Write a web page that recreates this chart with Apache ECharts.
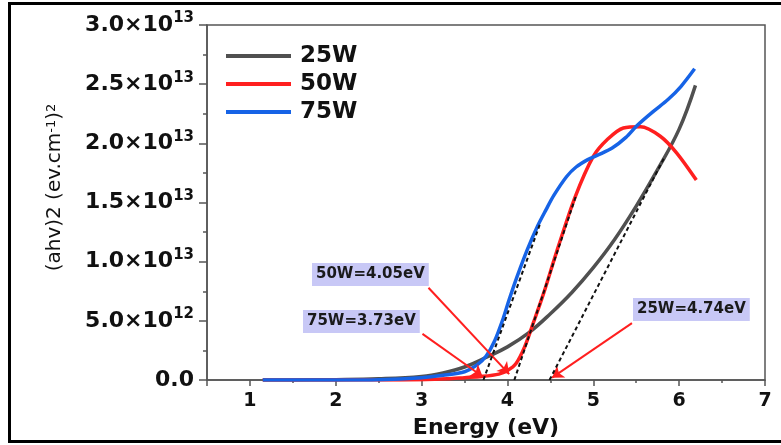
<!DOCTYPE html>
<html>
<head>
<meta charset="utf-8">
<script src="https://cdn.jsdelivr.net/npm/echarts@6/dist/echarts.min.js"></script>
<style>
html,body{margin:0;padding:0;background:#fff;}
#chart{width:781px;height:445px;}
</style>
</head>
<body>
<div id="chart"></div>
<script>
// y values in units of 1e13 (ev.cm^-1)^2
var seriesNames = ['25W', '50W', '75W'];

var x25 = [1.15, 1.5, 2.0, 2.5, 3.0, 3.25, 3.5, 3.75, 4.0, 4.25, 4.5, 4.75, 5.0, 5.25, 5.5, 5.75, 6.0, 6.19];
var y25 = [0, 0.001, 0.003, 0.01, 0.03, 0.06, 0.11, 0.19, 0.28, 0.40, 0.56, 0.74, 0.95, 1.19, 1.47, 1.78, 2.12, 2.49];

var x50 = [1.15, 2.0, 2.5, 3.0, 3.3, 3.5, 3.7, 3.9, 4.0, 4.1, 4.2, 4.3, 4.42, 4.58, 4.79, 5.0, 5.16, 5.35, 5.55, 5.78, 5.97, 6.2];
var y50 = [0, 0, 0, 0.003, 0.01, 0.02, 0.03, 0.05, 0.08, 0.14, 0.28, 0.48, 0.73, 1.10, 1.55, 1.89, 2.03, 2.13, 2.14, 2.06, 1.92, 1.69];

var x75 = [1.15, 2.0, 2.5, 3.0, 3.25, 3.5, 3.65, 3.75, 3.85, 3.95, 4.02, 4.11, 4.23, 4.35, 4.45, 4.54, 4.69, 4.8, 4.93, 5.05, 5.22, 5.38, 5.51, 5.7, 5.87, 6.02, 6.18];
var y75 = [0, 0, 0.003, 0.02, 0.04, 0.07, 0.13, 0.2, 0.33, 0.52, 0.68, 0.87, 1.10, 1.30, 1.44, 1.56, 1.72, 1.80, 1.86, 1.90, 1.96, 2.05, 2.15, 2.27, 2.37, 2.48, 2.63];

// tangent (Tauc extrapolation) lines: [x0, y0, x1, y1]
var tan25 = [4.49, 0, 5.82, 1.87];
var tan50 = [4.08, 0, 4.80, 1.56];
var tan75 = [3.72, 0, 4.38, 1.32];

// annotations: label text, arrow start [x,y], arrow end [x,y]
var annoTexts = ['50W=4.05eV', '75W=3.73eV', '25W=4.74eV'];
var annoStart = [[3.08, 0.78], [3.01, 0.39], [5.45, 0.48]];
var annoEnd = [[4.02, 0.05], [3.71, 0.03], [4.52, 0.02]];

var xMin = 0.5, xMax = 7;
var yMin = 0, yMax = 3, yStep = 0.5;

function pairs(xs, ys) { return xs.map(function (v, i) { return [v, ys[i]]; }); }
function seg(t) { return [[t[0], t[1]], [t[2], t[3]]]; }

var FONT = '"DejaVu Sans", "Liberation Sans", Arial, sans-serif';
var colors = ['#505050', '#ff1f1f', '#1663e6'];

var chart = echarts.init(document.getElementById('chart'), null, { renderer: 'canvas' });

var option = {
  animation: false,
  backgroundColor: '#ffffff',
  grid: { left: 207, right: 16, top: 25, bottom: 65, show: true, borderColor: '#555', borderWidth: 1.5, backgroundColor: 'transparent' },
  legend: {
    data: seriesNames,
    orient: 'vertical',
    left: 221, top: 39,
    icon: 'rect',
    itemWidth: 65, itemHeight: 4,
    itemGap: 4,
    textStyle: { fontFamily: FONT, fontWeight: 'bold', fontSize: 23, color: '#111', lineHeight: 24, padding: [0, 0, 0, 4] }
  },
  xAxis: {
    type: 'value', min: xMin, max: xMax, splitNumber: 6,
    name: 'Energy (eV)', nameLocation: 'middle', nameGap: 37,
    nameTextStyle: { fontFamily: FONT, fontWeight: 'bold', fontSize: 22, color: '#111' },
    axisLine: { show: true, lineStyle: { color: '#555', width: 1.5 } },
    axisTick: { show: true, inside: false, length: 6, lineStyle: { color: '#555', width: 1.5 } },
    minorTick: { show: true, splitNumber: 2, length: 3, lineStyle: { color: '#555', width: 1.5 } },
    splitLine: { show: false },
    axisLabel: {
      margin: 12, showMinLabel: false,
      fontFamily: FONT, fontWeight: 'bold', fontSize: 19, color: '#111',
      formatter: function (v) { return Math.abs(v - Math.round(v)) < 1e-9 ? String(Math.round(v)) : ''; }
    }
  },
  yAxis: {
    type: 'value', min: yMin, max: yMax, interval: yStep,
    name: '(ahv)2 (ev.cm{s|-1}){s|2}', nameLocation: 'middle', nameGap: 142,
    nameTextStyle: {
      fontFamily: FONT, fontSize: 20, color: '#111', padding: [0, 0, 0, 30],
      rich: { s: { fontFamily: FONT, fontSize: 13, color: '#111', lineHeight: 12, verticalAlign: 'top' } }
    },
    axisLine: { show: true, lineStyle: { color: '#555', width: 1.5 } },
    axisTick: { show: true, inside: false, length: 8, lineStyle: { color: '#555', width: 1.5 } },
    minorTick: { show: true, splitNumber: 2, length: 4, lineStyle: { color: '#555', width: 1.5 } },
    splitLine: { show: false },
    axisLabel: {
      margin: 13,
      formatter: function (v) {
        if (v === 0) return '{m|0.0}';
        var real = v * 1e13;
        var e = Math.floor(Math.log10(real) + 1e-9);
        var m = real / Math.pow(10, e);
        return '{m|' + m.toFixed(1) + '×10}{s|' + e + '}';
      },
      rich: {
        m: { fontFamily: FONT, fontWeight: 'bold', fontSize: 22, color: '#111', lineHeight: 28 },
        s: { fontFamily: FONT, fontWeight: 'bold', fontSize: 15, color: '#111', lineHeight: 15, verticalAlign: 'top' }
      }
    }
  },
  series: [
    { name: '25W', type: 'line', data: pairs(x25, y25), smooth: 0.4, showSymbol: false, symbol: 'none', lineStyle: { color: colors[0], width: 3.5 }, itemStyle: { color: colors[0] }, z: 2 },
    { name: '50W', type: 'line', data: pairs(x50, y50), smooth: 0.3, showSymbol: false, symbol: 'none', lineStyle: { color: colors[1], width: 3.5 }, itemStyle: { color: colors[1] }, z: 3 },
    { name: '75W', type: 'line', data: pairs(x75, y75), smooth: 0.3, showSymbol: false, symbol: 'none', lineStyle: { color: colors[2], width: 3.5 }, itemStyle: { color: colors[2] }, z: 4 },
    { name: 't25', type: 'line', data: seg(tan25), showSymbol: false, symbol: 'none', lineStyle: { color: '#111', width: 2, type: [4, 3] }, z: 5, silent: true },
    { name: 't50', type: 'line', data: seg(tan50), showSymbol: false, symbol: 'none', lineStyle: { color: '#111', width: 2, type: [4, 3] }, z: 5, silent: true },
    { name: 't75', type: 'line', data: seg(tan75), showSymbol: false, symbol: 'none', lineStyle: { color: '#111', width: 2, type: [4, 3] }, z: 5, silent: true },
    {
      name: 'arrows', type: 'line', data: [], z: 6, silent: true,
      markLine: {
        silent: true, animation: false,
        symbol: ['none', 'arrow'], symbolSize: 11,
        label: { show: false },
        lineStyle: { color: '#ff1f1f', width: 2, type: 'solid' },
        emphasis: { disabled: true },
        data: annoStart.map(function (s, i) { return [{ coord: s }, { coord: annoEnd[i] }]; })
      }
    }
  ],
  graphic: [
    { type: 'rect', silent: true, z: 100, shape: { x: 9.5, y: 3.5, width: 790, height: 438 }, style: { fill: 'none', stroke: '#000', lineWidth: 3 } },
    { type: 'text', left: 312, top: 263, z: 50, style: { text: annoTexts[0], font: 'bold 15px ' + FONT, fill: '#1a1a1a', backgroundColor: '#c8c8f6', padding: [4, 4, 4, 4] } },
    { type: 'text', left: 303, top: 310, z: 50, style: { text: annoTexts[1], font: 'bold 15px ' + FONT, fill: '#1a1a1a', backgroundColor: '#c8c8f6', padding: [4, 4, 4, 4] } },
    { type: 'text', left: 633, top: 298, z: 50, style: { text: annoTexts[2], font: 'bold 15px ' + FONT, fill: '#1a1a1a', backgroundColor: '#c8c8f6', padding: [4, 4, 4, 4] } }
  ]
};
chart.setOption(option);
</script>
</body>
</html>
